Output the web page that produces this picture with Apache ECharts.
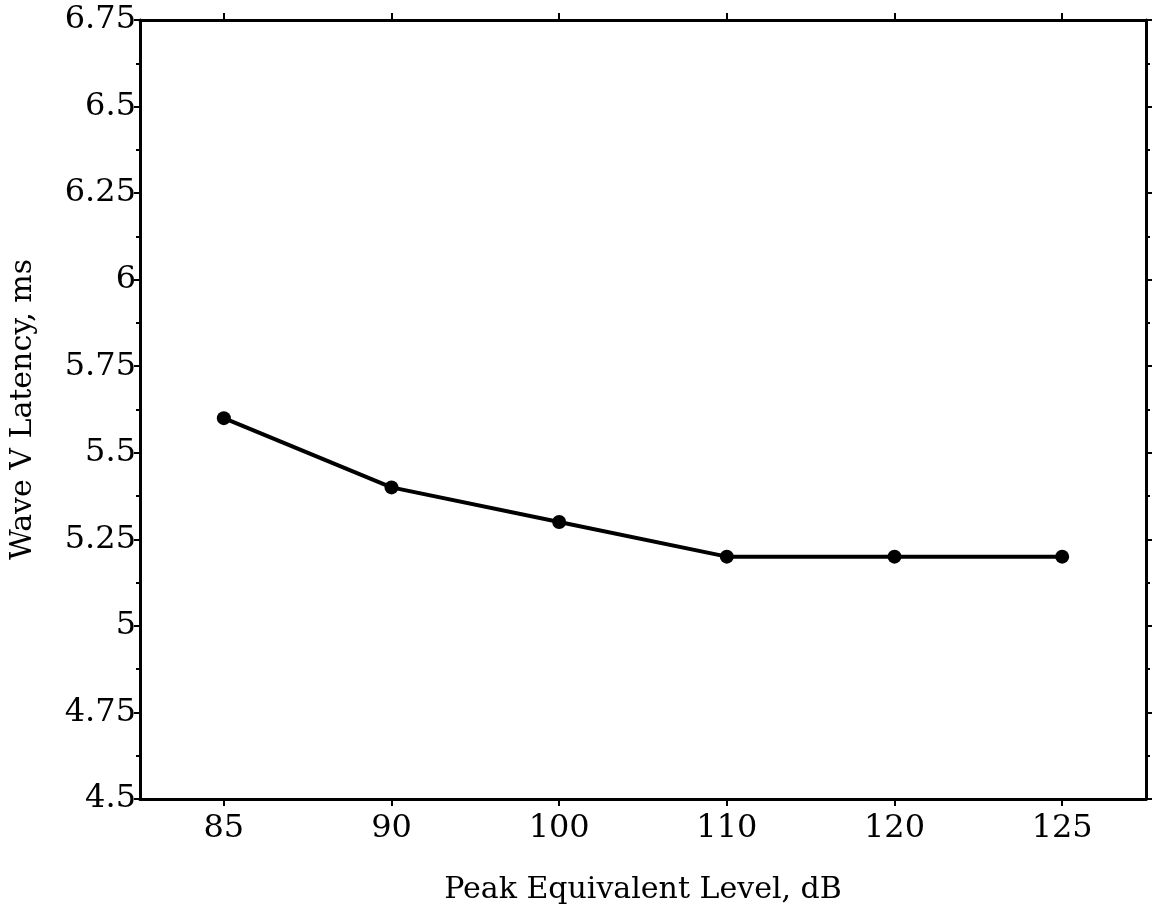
<!DOCTYPE html>
<html>
<head>
<meta charset="utf-8">
<script src="https://cdn.jsdelivr.net/npm/echarts@6/dist/echarts.min.js"></script>
<style>
html,body{margin:0;padding:0;background:#fff;}
#chart{width:1161px;height:919px;}
</style>
</head>
<body>
<div id="chart"></div>
<script>
var categories = ['85', '90', '100', '110', '120', '125'];
var latency = [5.6, 5.4, 5.3, 5.2, 5.2, 5.2];
var yMin = 4.5, yMax = 6.75, yStep = 0.25;
var xTitle = 'Peak Equivalent Level, dB';
var yTitle = 'Wave V Latency, ms';

var FONT = 'DejaVu Serif';
var chart = echarts.init(document.getElementById('chart'));
var axisLine = {show: true, lineStyle: {color: '#000', width: 3}};
chart.setOption({
  animation: false,
  backgroundColor: '#fff',
  grid: {left: 137, right: 15, top: 20, bottom: 120, containLabel: false},
  xAxis: [{
    type: 'category', data: categories, position: 'bottom',
    boundaryGap: true,
    axisLine: axisLine,
    axisTick: {show: true, alignWithLabel: true, inside: false, length: 7, lineStyle: {color: '#000', width: 2}},
    axisLabel: {color: '#000', fontFamily: FONT, fontSize: 32, margin: 14},
    splitLine: {show: false},
    name: xTitle, nameLocation: 'middle', nameGap: 76,
    nameTextStyle: {color: '#000', fontFamily: FONT, fontSize: 30}
  }, {
    type: 'category', data: categories, position: 'top',
    boundaryGap: true,
    axisLine: axisLine,
    axisTick: {show: true, alignWithLabel: true, inside: false, length: 7, lineStyle: {color: '#000', width: 2}},
    axisLabel: {show: false},
    splitLine: {show: false}
  }],
  yAxis: [{
    type: 'value', min: yMin, max: yMax, interval: yStep, position: 'left',
    axisLine: axisLine,
    axisTick: {show: true, inside: false, length: 6, lineStyle: {color: '#000', width: 2}},
    minorTick: {show: true, splitNumber: 2, length: 4, lineStyle: {color: '#000', width: 2}},
    axisLabel: {color: '#000', fontFamily: FONT, fontSize: 32, margin: 4,
      formatter: function (v) { return String(+v.toFixed(2)); }},
    splitLine: {show: false},
    name: yTitle, nameLocation: 'middle', nameGap: 102, nameRotate: 90,
    nameTextStyle: {color: '#000', fontFamily: FONT, fontSize: 30}
  }, {
    type: 'value', min: yMin, max: yMax, interval: yStep, position: 'right',
    axisLine: axisLine,
    axisTick: {show: true, inside: false, length: 6, lineStyle: {color: '#000', width: 2}},
    minorTick: {show: true, splitNumber: 2, length: 4, lineStyle: {color: '#000', width: 2}},
    axisLabel: {show: false},
    splitLine: {show: false}
  }],
  series: [{
    type: 'line', data: latency, xAxisIndex: 0, yAxisIndex: 0,
    symbol: 'circle', symbolSize: 14,
    lineStyle: {color: '#000', width: 4},
    itemStyle: {color: '#000'}
  }]
});
</script>
</body>
</html>
